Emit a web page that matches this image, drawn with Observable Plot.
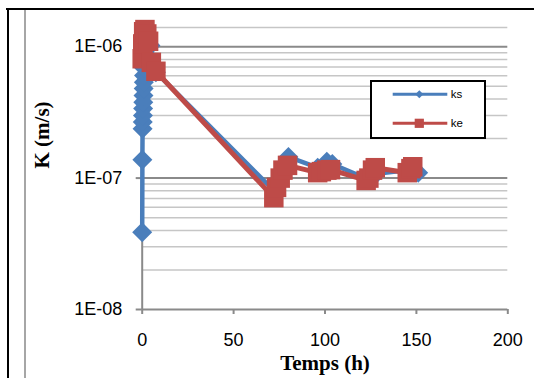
<!DOCTYPE html>
<html>
<head>
<meta charset="utf-8">
<script src="https://cdn.jsdelivr.net/npm/d3@7"></script>
<script src="https://cdn.jsdelivr.net/npm/@observablehq/plot@0.6"></script>
<style>
  html, body { margin: 0; padding: 0; background: #fff; }
  #wrap { position: relative; width: 534px; height: 378px; overflow: hidden; background: #fff; }
  #wrap svg.plot { position: absolute; left: 0; top: 0; }
  .frameTop { position: absolute; left: 6px; top: 8px; width: 528px; height: 2px; background: #000; }
  .frameLeft { position: absolute; left: 7px; top: 8px; width: 2px; height: 370px; background: #000; }
  .frameGray { position: absolute; left: 24px; top: 10px; width: 2px; height: 368px; background: #a6a6a6; }
  #legend { position: absolute; left: 370px; top: 80px; width: 112px; height: 55px; border: 2px solid #000; background: #fff; }
  #legend svg { position: absolute; left: 0; top: 0; }
</style>
</head>
<body>
<div id="wrap">
  <div class="frameTop"></div>
  <div class="frameLeft"></div>
  <div class="frameGray"></div>
</div>
<script>
// ---- data ----
const seriesNames = ["ks", "ke"];
const seriesColors = ["#4A7EBB", "#BE4B48"];

const ksTime = [0, 0.1, 0.2, 0.3, 0.4, 0.5, 0.6, 0.7, 0.8, 0.9, 1.0, 1.2, 1.4, 1.6, 2, 4.5, 7.5, 73, 80, 96, 101, 104, 122, 126, 128, 146, 151];
const ksK = [3.87e-8, 1.38e-7, 2.37e-7, 2.67e-7, 3.0e-7, 3.39e-7, 3.78e-7, 4.26e-7, 4.81e-7, 5.37e-7, 6.04e-7, 6.84e-7, 7.73e-7, 8.59e-7, 9.7e-7, 1.02e-6, 6.4e-7, 7.8e-8, 1.45e-7, 1.2e-7, 1.33e-7, 1.28e-7, 1.0e-7, 1.06e-7, 1.08e-7, 1.15e-7, 1.1e-7];

const keTime = [0, 0.3, 0.8, 1.5, 2.5, 3.5, 5, 7.5, 72, 73.5, 75.5, 77, 79.5, 96, 98, 101, 103, 122.5, 124, 126, 127.5, 145, 147, 148];
const keK = [8.1e-7, 1.05e-6, 1.3e-6, 1.35e-6, 1.25e-6, 1.1e-6, 7.6e-7, 6.5e-7, 7.1e-8, 8.5e-8, 1.0e-7, 1.15e-7, 1.25e-7, 1.1e-7, 1.12e-7, 1.15e-7, 1.16e-7, 9.6e-8, 1.0e-7, 1.15e-7, 1.2e-7, 1.1e-7, 1.18e-7, 1.22e-7];

const xTicks = [0, 50, 100, 150, 200];
const xTickLabels = ["0", "50", "100", "150", "200"];
const yTicks = [1e-8, 1e-7, 1e-6];
const yTickLabels = ["1E-08", "1E-07", "1E-06"];
const xTitle = "Temps (h)";
const yTitle = "K (m/s)";

// ---- build tables ----
const ks = ksTime.map((t, i) => ({t, k: ksK[i]}));
const ke = keTime.map((t, i) => ({t, k: keK[i]}));

const yTop = 1.4e-6;
const minorGrid = [];
for (const dec of [1e-8, 1e-7]) for (let m = 2; m <= 9; m++) minorGrid.push(m * dec);
minorGrid.push(yTop);

const axisGray = "#8a8a8a";

const chart = Plot.plot({
  width: 534,
  height: 378,
  marginLeft: 141.7,
  marginRight: 26.7,
  marginTop: 27,
  marginBottom: 69,
  x: {domain: [0, 200]},
  y: {type: "log", domain: [1e-8, yTop]},
  style: {fontFamily: "Liberation Sans", fontSize: "18px", color: "#000", background: "transparent", overflow: "visible"},
  marks: [
    Plot.ruleY(minorGrid, {stroke: "#c6c6c6", strokeWidth: 1.5}),
    Plot.ruleY([1e-7, 1e-6], {stroke: axisGray, strokeWidth: 2}),
    Plot.ruleX([0], {stroke: axisGray, strokeWidth: 2}),
    Plot.ruleY([1e-8], {stroke: axisGray, strokeWidth: 2}),
    Plot.axisX({ticks: xTicks, tickFormat: d => xTickLabels[xTicks.indexOf(d)], tickSize: 5, tickPadding: 18.7, label: null, stroke: axisGray, strokeWidth: 2, fill: "#000"}),
    Plot.axisY({ticks: yTicks, tickFormat: d => yTickLabels[yTicks.indexOf(d)], tickSize: 6, tickPadding: 14, label: null, stroke: axisGray, strokeWidth: 2, fill: "#000"}),
    Plot.line(ks, {x: "t", y: "k", stroke: seriesColors[0], strokeWidth: 4.5}),
    Plot.dot(ks, {x: "t", y: "k", symbol: "diamond2", r: 9, fill: seriesColors[0], stroke: "none"}),
    Plot.line(ke, {x: "t", y: "k", stroke: seriesColors[1], strokeWidth: 5}),
    Plot.dot(ke, {x: "t", y: "k", symbol: "square", r: 11, fill: seriesColors[1], stroke: "none"}),
    Plot.text([yTitle], {frameAnchor: "left", dx: -100, rotate: -90, fontFamily: "Liberation Serif", fontWeight: "bold", fontSize: 21, fill: "#000"}),
    Plot.text([xTitle], {frameAnchor: "bottom", dy: 60.5, fontFamily: "Liberation Serif", fontWeight: "bold", fontSize: 21, fill: "#000"})
  ]
});
chart.classList.add("plot");
const wrap = document.getElementById("wrap");
wrap.insertBefore(chart, wrap.firstChild);

// ---- legend ----
const legend = document.createElement("div");
legend.id = "legend";
const ns = "http://www.w3.org/2000/svg";
const lsvg = document.createElementNS(ns, "svg");
lsvg.setAttribute("width", 112);
lsvg.setAttribute("height", 55);
const rowsY = [12.3, 41.3];
seriesNames.forEach((name, i) => {
  const y = rowsY[i];
  const line = document.createElementNS(ns, "line");
  line.setAttribute("x1", 20.7); line.setAttribute("x2", 75.3);
  line.setAttribute("y1", y); line.setAttribute("y2", y);
  line.setAttribute("stroke", seriesColors[i]); line.setAttribute("stroke-width", 3);
  lsvg.appendChild(line);
  if (i === 0) {
    const p = document.createElementNS(ns, "path");
    const cx = 47.3, h = 4;
    p.setAttribute("d", `M${cx},${y - h}L${cx + h},${y}L${cx},${y + h}L${cx - h},${y}Z`);
    p.setAttribute("fill", seriesColors[i]);
    lsvg.appendChild(p);
  } else {
    const r = document.createElementNS(ns, "rect");
    r.setAttribute("x", 47.3 - 4.6); r.setAttribute("y", y - 4.6);
    r.setAttribute("width", 9.2); r.setAttribute("height", 9.2);
    r.setAttribute("fill", seriesColors[i]);
    lsvg.appendChild(r);
  }
  const t = document.createElementNS(ns, "text");
  t.setAttribute("x", 78.7); t.setAttribute("y", y + 4);
  t.setAttribute("font-family", "Liberation Sans");
  t.setAttribute("font-size", "11.5px");
  t.setAttribute("fill", "#000");
  t.textContent = name;
  lsvg.appendChild(t);
});
legend.appendChild(lsvg);
wrap.appendChild(legend);
</script>
</body>
</html>
